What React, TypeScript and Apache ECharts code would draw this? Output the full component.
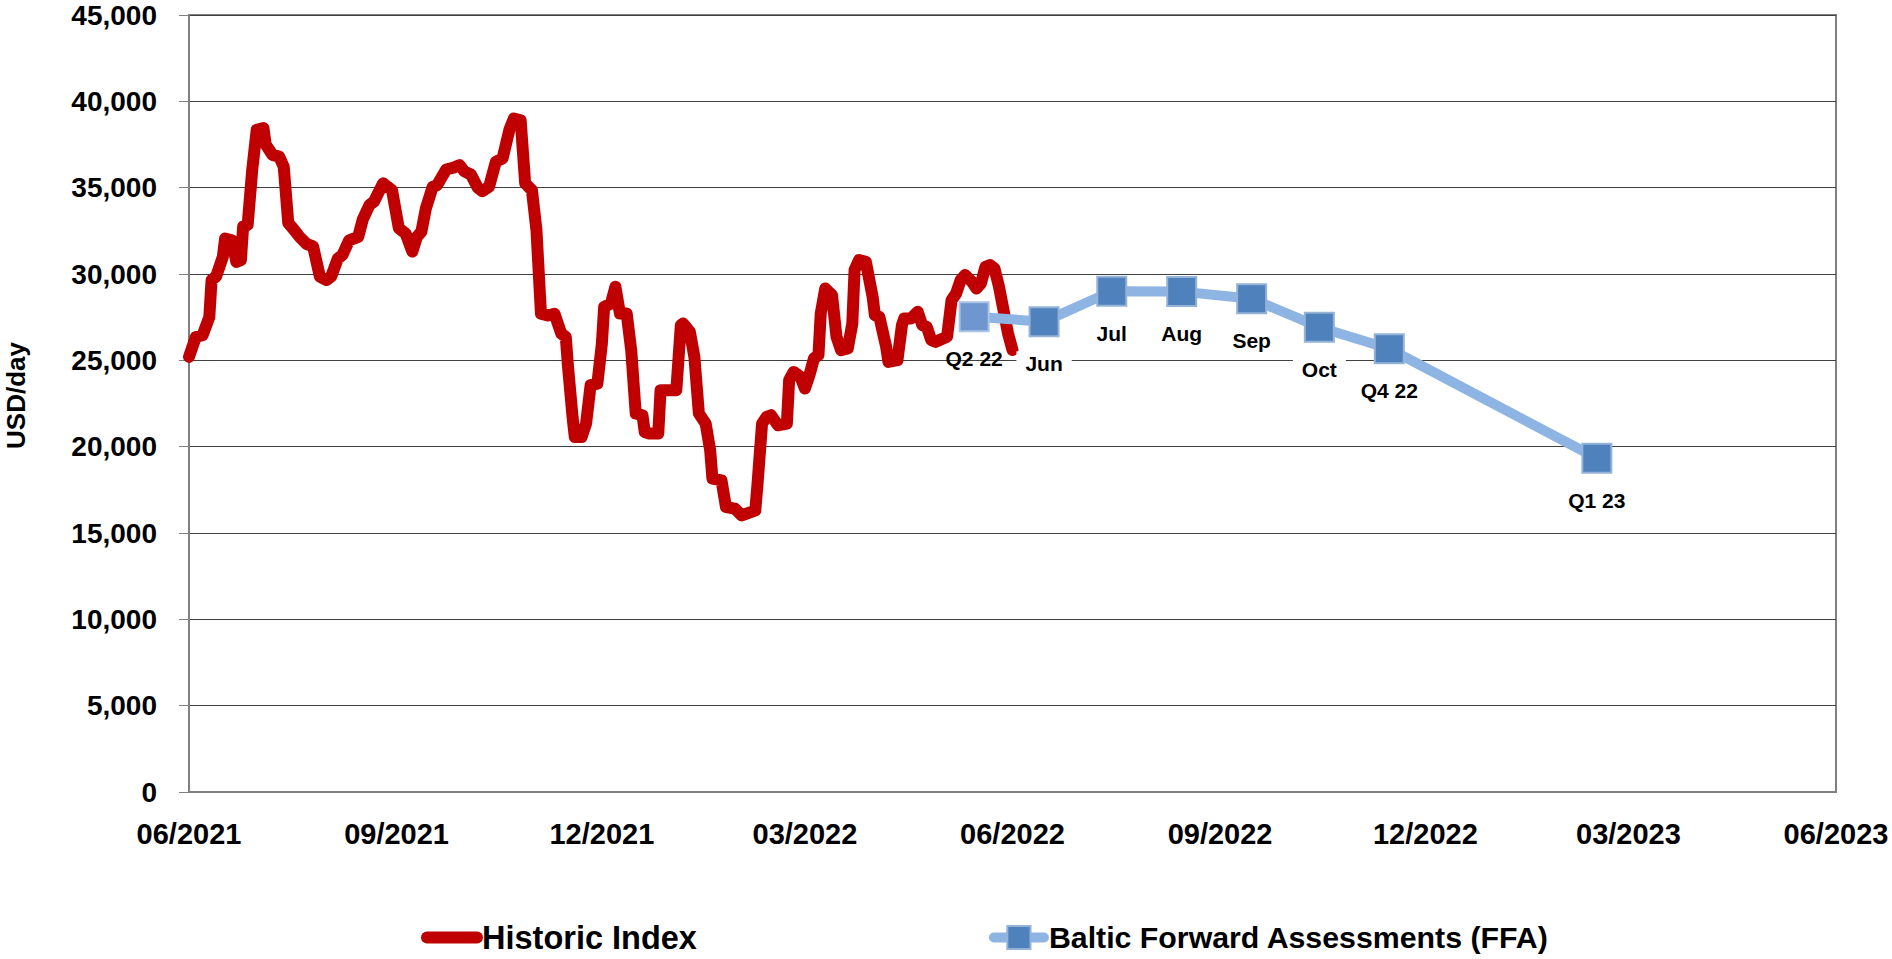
import React, { useEffect, useRef } from "react";
import * as echarts from "echarts";

// ---- Data ----
const tickLabels = ["06/2021", "09/2021", "12/2021", "03/2022", "06/2022", "09/2022", "12/2022", "03/2023", "06/2023"];

const historicDates = [
  "2021-06-01", "2021-06-04", "2021-06-07", "2021-06-10", "2021-06-11", "2021-06-13", "2021-06-16", "2021-06-17",
  "2021-06-20", "2021-06-22", "2021-06-24", "2021-06-25", "2021-06-27", "2021-06-29", "2021-07-01", "2021-07-04",
  "2021-07-05", "2021-07-08", "2021-07-11", "2021-07-13", "2021-07-15", "2021-07-17", "2021-07-20", "2021-07-23",
  "2021-07-26", "2021-07-29", "2021-08-01", "2021-08-03", "2021-08-06", "2021-08-08", "2021-08-11", "2021-08-15",
  "2021-08-17", "2021-08-20", "2021-08-22", "2021-08-26", "2021-08-30", "2021-09-02", "2021-09-05", "2021-09-08",
  "2021-09-10", "2021-09-12", "2021-09-14", "2021-09-17", "2021-09-19", "2021-09-23", "2021-09-26", "2021-09-29",
  "2021-10-01", "2021-10-04", "2021-10-07", "2021-10-09", "2021-10-12", "2021-10-15", "2021-10-18", "2021-10-21",
  "2021-10-23", "2021-10-26", "2021-10-28", "2021-10-31", "2021-11-02", "2021-11-04", "2021-11-07", "2021-11-10",
  "2021-11-13", "2021-11-15", "2021-11-16", "2021-11-18", "2021-11-19", "2021-11-22", "2021-11-24", "2021-11-26",
  "2021-11-29", "2021-12-01", "2021-12-02", "2021-12-05", "2021-12-07", "2021-12-09", "2021-12-12", "2021-12-14",
  "2021-12-16", "2021-12-19", "2021-12-20", "2021-12-22", "2021-12-26", "2021-12-27", "2022-01-03", "2022-01-05",
  "2022-01-06", "2022-01-09", "2022-01-11", "2022-01-13", "2022-01-16", "2022-01-18", "2022-01-19", "2022-01-23",
  "2022-01-25", "2022-01-29", "2022-02-01", "2022-02-05", "2022-02-07", "2022-02-08", "2022-02-10", "2022-02-12",
  "2022-02-14", "2022-02-17", "2022-02-21", "2022-02-22", "2022-02-24", "2022-02-27", "2022-03-01", "2022-03-03",
  "2022-03-05", "2022-03-07", "2022-03-08", "2022-03-10", "2022-03-13", "2022-03-15", "2022-03-17", "2022-03-20",
  "2022-03-22", "2022-03-23", "2022-03-25", "2022-03-28", "2022-03-31", "2022-04-01", "2022-04-03", "2022-04-06",
  "2022-04-07", "2022-04-11", "2022-04-13", "2022-04-14", "2022-04-17", "2022-04-20", "2022-04-22", "2022-04-24",
  "2022-04-26", "2022-04-28", "2022-05-03", "2022-05-05", "2022-05-07", "2022-05-09", "2022-05-11", "2022-05-14",
  "2022-05-16", "2022-05-18", "2022-05-20", "2022-05-22", "2022-05-24", "2022-05-26", "2022-05-28", "2022-05-30",
  "2022-06-01",
];

const historicValues = [
  25200, 26350, 26450, 27500, 29650, 29850, 31000, 32050,
  31950, 30700, 30800, 32750, 32850, 36000, 38350, 38450,
  37500, 36900, 36800, 36200, 32950, 32650, 32150, 31750,
  31600, 29850, 29650, 29850, 30900, 31100, 31950, 32150,
  33150, 34000, 34200, 35250, 34850, 32650, 32350, 31300,
  32150, 32450, 33800, 35050, 35150, 36050, 36150, 36300,
  35950, 35750, 35000, 34800, 35050, 36500, 36700, 38350,
  39000, 38900, 35250, 34850, 32550, 27700, 27600, 27700,
  26550, 26360, 24620, 21720, 20560, 20560, 21340, 23560,
  23650, 25970, 28100, 28290, 29260, 27710, 27710, 25590,
  21920, 21820, 20850, 20760, 20760, 23270, 23270, 27040,
  27130, 26650, 25200, 21920, 21340, 19790, 18150, 18050,
  16500, 16410, 16020, 16210, 16310, 17860, 21340, 21720,
  21820, 21240, 21340, 23850, 24330, 24040, 23370, 24140,
  25110, 25300, 27710, 29160, 28780, 26360, 25590, 25690,
  27130, 30230, 30810, 30710, 28680, 27620, 27520, 25780,
  24910, 25010, 27040, 27420, 27420, 27810, 27040, 26940,
  26170, 26070, 26360, 28490, 28870, 29650, 29940, 29550,
  29160, 29450, 30420, 30520, 30320, 29270, 27920, 26560,
  25600,
];

const ffaLabels = ["Q2 22", "Jun", "Jul", "Aug", "Sep", "Oct", "Q4 22", "Q1 23"];
const ffaDates = ["2022-05-15", "2022-06-15", "2022-07-15", "2022-08-15", "2022-09-15", "2022-10-15", "2022-11-15", "2023-02-15"];
const ffaValues = [27530, 27240, 29000, 28980, 28570, 26920, 25670, 19330];

const seriesNames = ["Historic Index", "Baltic Forward Assessments (FFA)"];

const FONT = "'Liberation Sans', Arial, sans-serif";

const ts = (s: string) => new Date(s + "T00:00:00").getTime();
const tickTs = (lbl: string) => {
  const [mm, yyyy] = lbl.split("/");
  return new Date(Number(yyyy), Number(mm) - 1, 1).getTime();
};
const pad2 = (n: number) => (n < 10 ? "0" + n : "" + n);

export default function App() {
  const ref = useRef<HTMLDivElement>(null);

  useEffect(() => {
    if (!ref.current) return;
    const chart = echarts.init(ref.current, undefined, { renderer: "svg" });

    const tickValues = tickLabels.map(tickTs);

    const option: any = {
      animation: false,
      backgroundColor: "#ffffff",
      textStyle: { fontFamily: FONT },
      grid: {
        left: 189,
        right: 56,
        top: 15,
        bottom: 167,
        outerBoundsMode: "none",
        containLabel: false,
        show: true,
        borderColor: "#808080",
        borderWidth: 2,
        backgroundColor: "transparent",
      },
      legend: {
        left: 421,
        top: 921,
        padding: 0,
        itemWidth: 50,
        itemHeight: 29,
        itemGap: 292,
        textStyle: { fontFamily: FONT, fontSize: 31.5, fontWeight: "bold", color: "#000" },
        lineStyle: { width: "inherit", cap: "round" },
        data: [
          { name: seriesNames[0], itemStyle: { opacity: 0 }, textStyle: { fontSize: 32.5 } },
          { name: seriesNames[1], textStyle: { fontSize: 30.3 } },
        ],
      },
      xAxis: {
        type: "value",
        min: tickValues[0],
        max: tickValues[tickValues.length - 1],
        axisLine: { show: true, lineStyle: { color: "#808080", width: 2 } },
        axisTick: { show: false },
        splitLine: { show: false },
        axisLabel: {
          customValues: tickValues,
          showMinLabel: true,
          showMaxLabel: true,
          hideOverlap: false,
          margin: 27,
          fontFamily: FONT,
          fontSize: 29,
          fontWeight: "bold",
          color: "#000",
          formatter: (v: number) => {
            const d = new Date(v);
            return pad2(d.getMonth() + 1) + "/" + d.getFullYear();
          },
        },
      },
      yAxis: {
        type: "value",
        min: 0,
        max: 45000,
        interval: 5000,
        name: "USD/day",
        nameLocation: "middle",
        nameGap: 160,
        nameTextStyle: {
          fontFamily: FONT,
          fontSize: 26,
          fontWeight: "bold",
          color: "#000",
          padding: [0, 0, 0, 16],
        },
        axisLine: { show: true, lineStyle: { color: "#808080", width: 2 } },
        axisTick: { show: true, length: 10, lineStyle: { color: "#808080", width: 1 } },
        splitLine: { show: true, lineStyle: { color: "#404040", width: 1 } },
        axisLabel: {
          margin: 32,
          fontFamily: FONT,
          fontSize: 28,
          fontWeight: "bold",
          color: "#000",
          formatter: (v: number) => v.toLocaleString("en-US"),
        },
      },
      series: [
        {
          name: seriesNames[0],
          type: "line",
          showSymbol: false,
          symbol: "none",
          data: historicDates.map((d, i) => [ts(d), historicValues[i]]),
          lineStyle: { color: "#C00000", width: 12, cap: "round", join: "round" },
          itemStyle: { color: "#C00000" },
          z: 2,
        },
        {
          name: seriesNames[1],
          type: "line",
          symbol: "rect",
          symbolSize: 29,
          data: ffaDates.map((d, i) => {
            const item: any = { value: [ts(d), ffaValues[i]] };
            if (i === 0) {
              item.itemStyle = { color: "#6F96CE", borderColor: "#A9C4E6" };
              item.label = { backgroundColor: "transparent" };
            }
            return item;
          }),
          lineStyle: { color: "#8DB4E2", width: 10, join: "round" },
          itemStyle: { color: "#4F81BD", borderColor: "#95B3D7", borderWidth: 2 },
          label: {
            show: true,
            position: "bottom",
            distance: 14,
            fontFamily: FONT,
            fontSize: 21,
            fontWeight: "bold",
            color: "#000",
            backgroundColor: "#ffffff",
            padding: [2, 9],
            formatter: (p: any) => ffaLabels[p.dataIndex],
          },
          z: 3,
        },
      ],
    };

    chart.setOption(option);
    return () => chart.dispose();
  }, []);

  return (
    <div
      ref={ref}
      style={{ position: "fixed", left: 0, top: 0, width: 1892, height: 959, background: "#fff" }}
    />
  );
}
